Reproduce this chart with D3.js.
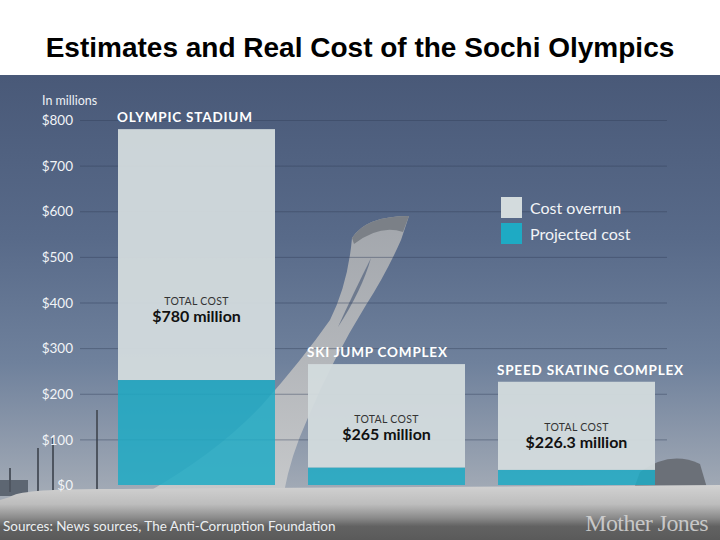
<!DOCTYPE html>
<html>
<head>
<meta charset="utf-8">
<script src="https://cdn.jsdelivr.net/npm/d3@7"></script>
<style>
  html, body { margin: 0; padding: 0; background: #fff; }
  svg { display: block; }
</style>
</head>
<body>
<svg id="chart" width="720" height="540"></svg>
<script>
// ---- data ----
const categories = ["OLYMPIC STADIUM", "SKI JUMP COMPLEX", "SPEED SKATING COMPLEX"];
const totalCost = [780, 265, 226.3];
const projectedCost = [230, 38, 33];
const totalLabels = ["$780 million", "$265 million", "$226.3 million"];
const yTicks = [0, 100, 200, 300, 400, 500, 600, 700, 800];
const legendLabels = ["Cost overrun", "Projected cost"];
const legendColors = ["#d3dbdd", "#1eaac4"];

const svg = d3.select("#chart");
const W = 720, H = 540;
const FONT = "Lato, 'Open Sans', sans-serif";

// ---- background (photo-like) ----
const defs = svg.append("defs");
const sky = defs.append("linearGradient").attr("id", "sky").attr("x1", 0).attr("y1", 0).attr("x2", 0).attr("y2", 1);
[[0, "#495978"], [0.35, "#586a89"], [0.62, "#6f819c"], [0.78, "#8d99ab"], [0.9, "#a3abb6"], [1, "#a8adb4"]]
  .forEach(([o, c]) => sky.append("stop").attr("offset", o).attr("stop-color", c));
const ground = defs.append("linearGradient").attr("id", "ground").attr("x1", 0).attr("y1", 0).attr("x2", 0).attr("y2", 1);
[[0, "#d2d2d2"], [0.35, "#bdbdbd"], [0.6, "#8a8a8a"], [0.75, "#626262"], [1, "#5a5a5a"]]
  .forEach(([o, c]) => ground.append("stop").attr("offset", o).attr("stop-color", c));
const torchG = defs.append("linearGradient").attr("id", "torch").attr("x1", 0).attr("y1", 0).attr("x2", 0).attr("y2", 1);
[[0, "#a2a6ac"], [0.5, "#b3b6ba"], [1, "#c6c8ca"]]
  .forEach(([o, c]) => torchG.append("stop").attr("offset", o).attr("stop-color", c));

svg.append("rect").attr("x", 0).attr("y", 75).attr("width", W).attr("height", H - 75).attr("fill", "url(#sky)");

// distant buildings / poles
svg.append("rect").attr("x", 0).attr("y", 480).attr("width", 28).attr("height", 16).attr("fill", "#5d6672");
svg.append("path").attr("d", "M628,505 L640,472 Q670,450 700,464 L712,505 Z").attr("fill", "#6b7078");
[[97, 410], [38, 448], [53, 437], [10, 468]].forEach(([px, py]) =>
  svg.append("line").attr("x1", px).attr("x2", px).attr("y1", py).attr("y2", 492)
    .attr("stroke", "#4e5560").attr("stroke-width", 2));

// torch
svg.append("path")
  .attr("d", "M352,238 Q366,216 409,216 L401,240 Q386,274 366,305 Q332,360 307,420 Q291,455 284,492 L148,492 Q218,452 262,405 Q302,360 330,320 Q348,284 352,238 Z")
  .attr("fill", "url(#torch)");
svg.append("path")
  .attr("d", "M352,238 Q366,216 409,216 L403,232 Q380,224 354,244 Z").attr("fill", "#7b8087");
svg.append("path")
  .attr("d", "M371,258 Q362,290 338,327 Q352,296 371,258 Z").attr("fill", "#6e7a8e");

// ground slab
svg.append("path")
  .attr("d", "M10,497 Q20,488 120,489 L720,485 L720,540 L0,540 L0,500 Z")
  .attr("fill", "url(#ground)");

// title area
svg.append("rect").attr("x", 0).attr("y", 0).attr("width", W).attr("height", 75).attr("fill", "#ffffff");
svg.append("text")
  .attr("x", 360).attr("y", 57)
  .attr("text-anchor", "middle")
  .attr("font-family", "Arial, 'Liberation Sans', sans-serif")
  .attr("font-weight", "bold").attr("font-size", 28).attr("fill", "#000")
  .text("Estimates and Real Cost of the Sochi Olympics");

// ---- scales ----
const y = d3.scaleLinear().domain([0, 800]).range([485, 120]);
const x = d3.scaleBand().domain(categories).range([118, 655]).paddingInner(0.1737).paddingOuter(0);

// gridlines + tick labels via axis
const axis = d3.axisLeft(y).tickValues(yTicks).tickSize(-(667 - 80)).tickFormat(d => "$" + d);
const gAxis = svg.append("g").attr("transform", "translate(80,0)").call(axis);
gAxis.select(".domain").remove();
gAxis.selectAll(".tick line").attr("stroke", "#33415a").attr("stroke-opacity", 0.45).attr("stroke-width", 1);
gAxis.selectAll(".tick text")
  .attr("x", -7).attr("dy", "0.35em")
  .attr("font-family", FONT).attr("font-size", 13.5).attr("fill", "#f2f4f7");
gAxis.selectAll(".tick").filter(d => d === 0).select("line").remove();

svg.append("text").attr("x", 42).attr("y", 105)
  .attr("font-family", FONT).attr("font-size", 12.5).attr("fill", "#eef1f5")
  .text("In millions");

// ---- bars ----
const data = categories.map((c, i) => ({ c, total: totalCost[i], proj: projectedCost[i], label: totalLabels[i] }));
const bars = svg.append("g").selectAll("g").data(data).join("g");

bars.append("rect")
  .attr("x", d => x(d.c)).attr("width", x.bandwidth())
  .attr("y", d => y(d.total)).attr("height", d => y(d.proj) - y(d.total))
  .attr("fill", legendColors[0]).attr("fill-opacity", 0.95);
bars.append("rect")
  .attr("x", d => x(d.c)).attr("width", x.bandwidth())
  .attr("y", d => y(d.proj)).attr("height", d => y(0) - y(d.proj))
  .attr("fill", legendColors[1]).attr("fill-opacity", 0.85);

bars.append("text")
  .attr("x", d => x(d.c) - 1).attr("y", d => y(d.total) - 7)
  .attr("font-family", FONT).attr("font-weight", "bold").attr("font-size", 13.5)
  .attr("letter-spacing", 0.8).attr("fill", "#ffffff")
  .text(d => d.c);

bars.append("text")
  .attr("x", d => x(d.c) + x.bandwidth() / 2).attr("y", d => (y(d.total) + y(0)) / 2 - 2)
  .attr("text-anchor", "middle")
  .attr("font-family", FONT).attr("font-size", 10.5).attr("letter-spacing", 0.3).attr("fill", "#333")
  .text("TOTAL COST");
bars.append("text")
  .attr("x", d => x(d.c) + x.bandwidth() / 2).attr("y", d => (y(d.total) + y(0)) / 2 + 15)
  .attr("text-anchor", "middle")
  .attr("font-family", FONT).attr("font-weight", "bold").attr("font-size", 16).attr("fill", "#111")
  .text(d => d.label);

// ---- legend ----
const leg = svg.append("g").selectAll("g").data(legendLabels).join("g")
  .attr("transform", (d, i) => `translate(501,${197 + i * 26})`);
leg.append("rect").attr("width", 21).attr("height", 21)
  .attr("fill", (d, i) => legendColors[i]);
leg.append("text").attr("x", 29).attr("y", 16.5)
  .attr("font-family", FONT).attr("font-size", 16).attr("fill", "#f2f4f7")
  .text(d => d);

// ---- footer ----
svg.append("text").attr("x", 3).attr("y", 531)
  .attr("font-family", FONT).attr("font-size", 13.5).attr("fill", "#eceff2")
  .text("Sources: News sources, The Anti-Corruption Foundation");
svg.append("text").attr("x", 708).attr("y", 531).attr("text-anchor", "end")
  .attr("font-family", "'Liberation Serif', 'DejaVu Serif', serif").attr("font-size", 24)
  .attr("fill", "#d8d8d8").attr("fill-opacity", 0.85).attr("letter-spacing", -0.6)
  .text("Mother Jones");
</script>
</body>
</html>
